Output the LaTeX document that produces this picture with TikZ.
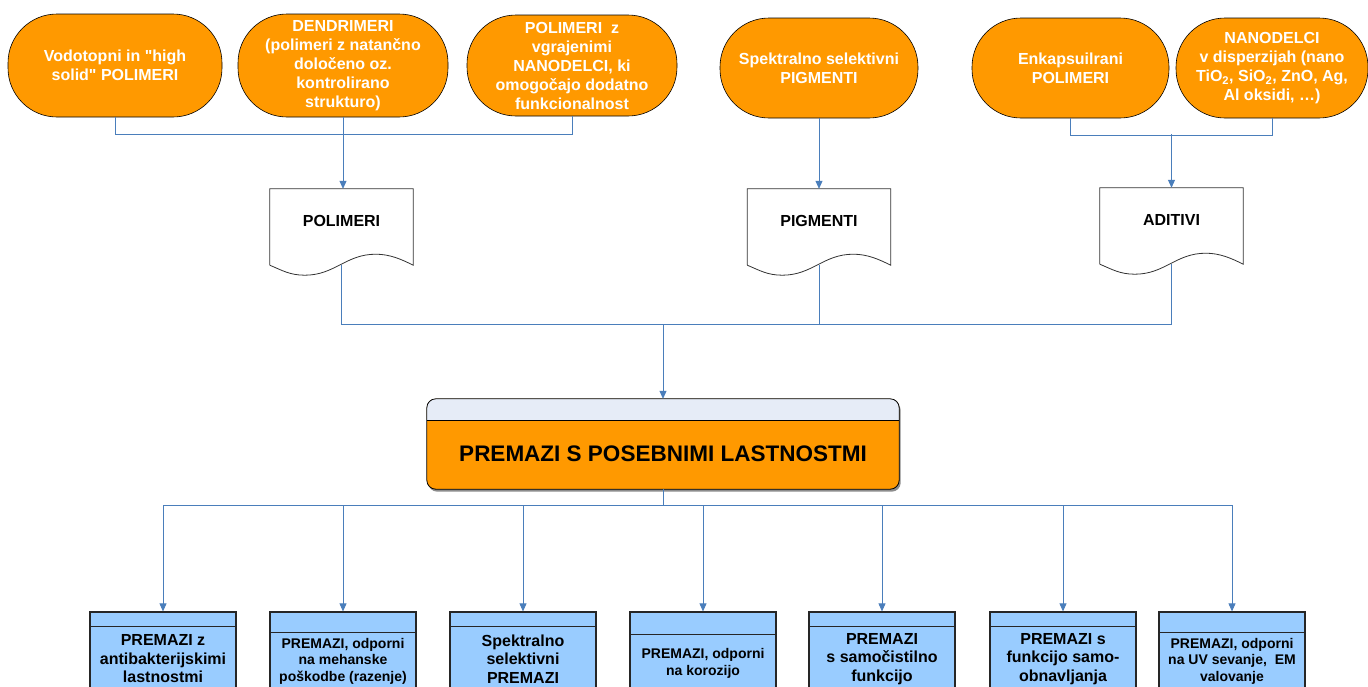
\documentclass[tikz,border=0pt]{standalone}
\usepackage{fontspec}
\setmainfont{Liberation Sans}[Ligatures=TeXOff]
\usetikzlibrary{arrows.meta}
\definecolor{orng}{HTML}{FF9900}
\definecolor{connblue}{HTML}{4A7EBB}
\definecolor{lblue}{HTML}{99CCFF}
\definecolor{headcol}{HTML}{E6ECF7}
\newcommand\docoutline[1]{%
  \draw[black!80, line width=0.8pt] (#1.south west) -- (#1.north west) -- (#1.north east) -- (#1.south east)
   .. controls +(-12,-6) and +(14,0) .. ([shift={(106,-11)}]#1.south west)
   .. controls +(-30,0) and +(30,0) .. ([shift={(35,10)}]#1.south west)
   .. controls +(-15,0) and +(12,5) .. (#1.south west);}
\tikzset{
  oval/.style={draw=black, line width=0.6pt, fill=orng, rounded corners=49pt, text=white,
    font=\bfseries\fontsize{16}{19}\selectfont, align=center, inner sep=0pt},
  docbox/.style={minimum width=143pt, minimum height=76pt, inner sep=0pt},
  doctext/.style={font=\bfseries\fontsize{16}{19}\selectfont},
  link/.style={draw=connblue, line width=0.8pt},
  arr/.style={link, -{Triangle[length=8pt,width=7pt]}},
  leaf/.style={draw=black!85, line width=1.2pt, fill=lblue, minimum width=146pt, minimum height=100pt, inner sep=0pt},
  bigtxt/.style={font=\bfseries\fontsize{16}{18.5}\selectfont, align=center},
  smalltxt/.style={font=\bfseries\fontsize{14}{16.5}\selectfont, align=center},
  divider/.style={draw=black!85, line width=1.2pt}
}
\begin{document}
\begin{tikzpicture}[x=1pt,y=-1pt]
\useasboundingbox (0,0) rectangle (1368,686);
\clip (0,0) rectangle (1368,686);
\fill[white] (0,0) rectangle (1368,686);

% top ovals
\node[oval, minimum width=214pt, minimum height=103pt] (o1) at (115,65.5) {Vodotopni in "high\\solid" POLIMERI};
\node[oval, minimum width=210pt, minimum height=103pt] (o2) at (343,65.5) {DENDRIMERI\\(polimeri z natančno\\določeno oz.\\kontrolirano\\strukturo)};
\node[oval, minimum width=210pt, minimum height=101pt] (o3) at (572,65.5) {POLIMERI~~z\\vgrajenimi\\NANODELCI, ki\\omogočajo dodatno\\funkcionalnost};
\node[oval, minimum width=198pt, minimum height=100pt] (o4) at (819,68) {Spektralno selektivni\\PIGMENTI};
\node[oval, minimum width=197pt, minimum height=100pt] (o5) at (1070.5,68) {Enkapsuilrani\\POLIMERI};
\node[oval, minimum width=192pt, minimum height=100pt] (o6) at (1272,68) {NANODELCI\\v disperzijah (nano\\TiO\textsubscript{2}, SiO\textsubscript{2}, ZnO, Ag,\\Al oksidi, …)};

% documents
\node[docbox] (pol) at (341.5,227) {};
\node[docbox] (pig) at (819,227) {};
\node[docbox] (adi) at (1171.5,226) {};
\docoutline{pol}
\docoutline{pig}
\docoutline{adi}
\node[doctext] (tpol) at (341.5,221) {POLIMERI};
\node[doctext] (tpig) at (819,221) {PIGMENTI};
\node[doctext] (tadi) at (1171.5,220) {ADITIVI};

% top connectors
\coordinate (j3) at (1171.5,134);
\draw[link] (o1.south) -- ++(0,17) -| (o3.south);
\draw[arr] (o2.south) -- (o2.south |- pol.north);
\draw[arr] (o4.south) -- (pig.north);
\draw[link] (o5.south) -- ++(0,17) -| (o6.south);
\draw[arr] (j3) -- (adi.north);

% main box
\node[minimum width=472pt, minimum height=90pt, inner sep=0pt] (main) at (663,444) {};
\fill[black!45, rounded corners=9pt] ([shift={(1.5,2.5)}]main.north west) rectangle ([shift={(1.5,2.5)}]main.south east);
\fill[orng, rounded corners=9pt] (main.north west) rectangle (main.south east);
\begin{scope}
  \clip (main.north west) rectangle ([shift={(0,22)}]main.north east);
  \fill[headcol, rounded corners=9pt] (main.north west) rectangle (main.south east);
\end{scope}
\draw[black, line width=0.8pt] ([shift={(0,22)}]main.north west) -- ([shift={(0,22)}]main.north east);
\draw[black, line width=0.8pt, rounded corners=9pt] (main.north west) rectangle (main.south east);
\node[font=\bfseries\fontsize{22.5}{27}\selectfont] (title) at (663,454) {PREMAZI S POSEBNIMI LASTNOSTMI};

% middle connectors
\coordinate (bus) at (663,324);
\draw[link] (pol.south) -- ++(0,59) -| (adi.south);
\draw[link] (pig.south) -- (pig.south |- bus);
\draw[arr] (bus) -- (main.north);

% bottom boxes
\node[leaf] (b1) at (163,662) {};
\node[leaf] (b2) at (343,662) {};
\node[leaf] (b3) at (523,662) {};
\node[leaf] (b4) at (703,662) {};
\node[leaf] (b5) at (882,662) {};
\node[leaf] (b6) at (1063,662) {};
\node[leaf] (b7) at (1232,662) {};
\draw[divider] ([yshift=-15pt]b1.north west) -- ([yshift=-15pt]b1.north east);
\draw[divider] ([yshift=-21pt]b2.north west) -- ([yshift=-21pt]b2.north east);
\draw[divider] ([yshift=-15pt]b3.north west) -- ([yshift=-15pt]b3.north east);
\draw[divider] ([yshift=-23pt]b4.north west) -- ([yshift=-23pt]b4.north east);
\draw[divider] ([yshift=-15pt]b5.north west) -- ([yshift=-15pt]b5.north east);
\draw[divider] ([yshift=-15pt]b6.north west) -- ([yshift=-15pt]b6.north east);
\draw[divider] ([yshift=-21pt]b7.north west) -- ([yshift=-21pt]b7.north east);
\node[bigtxt] (t1) at (163,659) {PREMAZI z\\antibakterijskimi\\lastnostmi};
\node[smalltxt] (t2) at (343,661) {PREMAZI, odporni\\na mehanske\\poškodbe (razenje)};
\node[bigtxt] (t3) at (523,659) {Spektralno\\selektivni\\PREMAZI};
\node[smalltxt] (t4) at (703,663.5) {PREMAZI, odporni\\na korozijo};
\node[bigtxt] (t5) at (882,659) {PREMAZI\\s samočistilno\\funkcijo};
\node[bigtxt] (t6) at (1063,659) {PREMAZI s\\funkcijo samo-\\obnavljanja};
\node[smalltxt] (t7) at (1232,661) {PREMAZI, odporni\\na UV sevanje,~~EM\\valovanje};

% bottom connectors
\coordinate (bb) at (663,505);
\draw[link] (main.south) -- (bb);
\draw[link] (b1.north |- bb) -- (b7.north |- bb);
\foreach \b in {b1,b2,b3,b4,b5,b6,b7} \draw[arr] (\b.north |- bb) -- (\b.north);
\end{tikzpicture}
\end{document}
